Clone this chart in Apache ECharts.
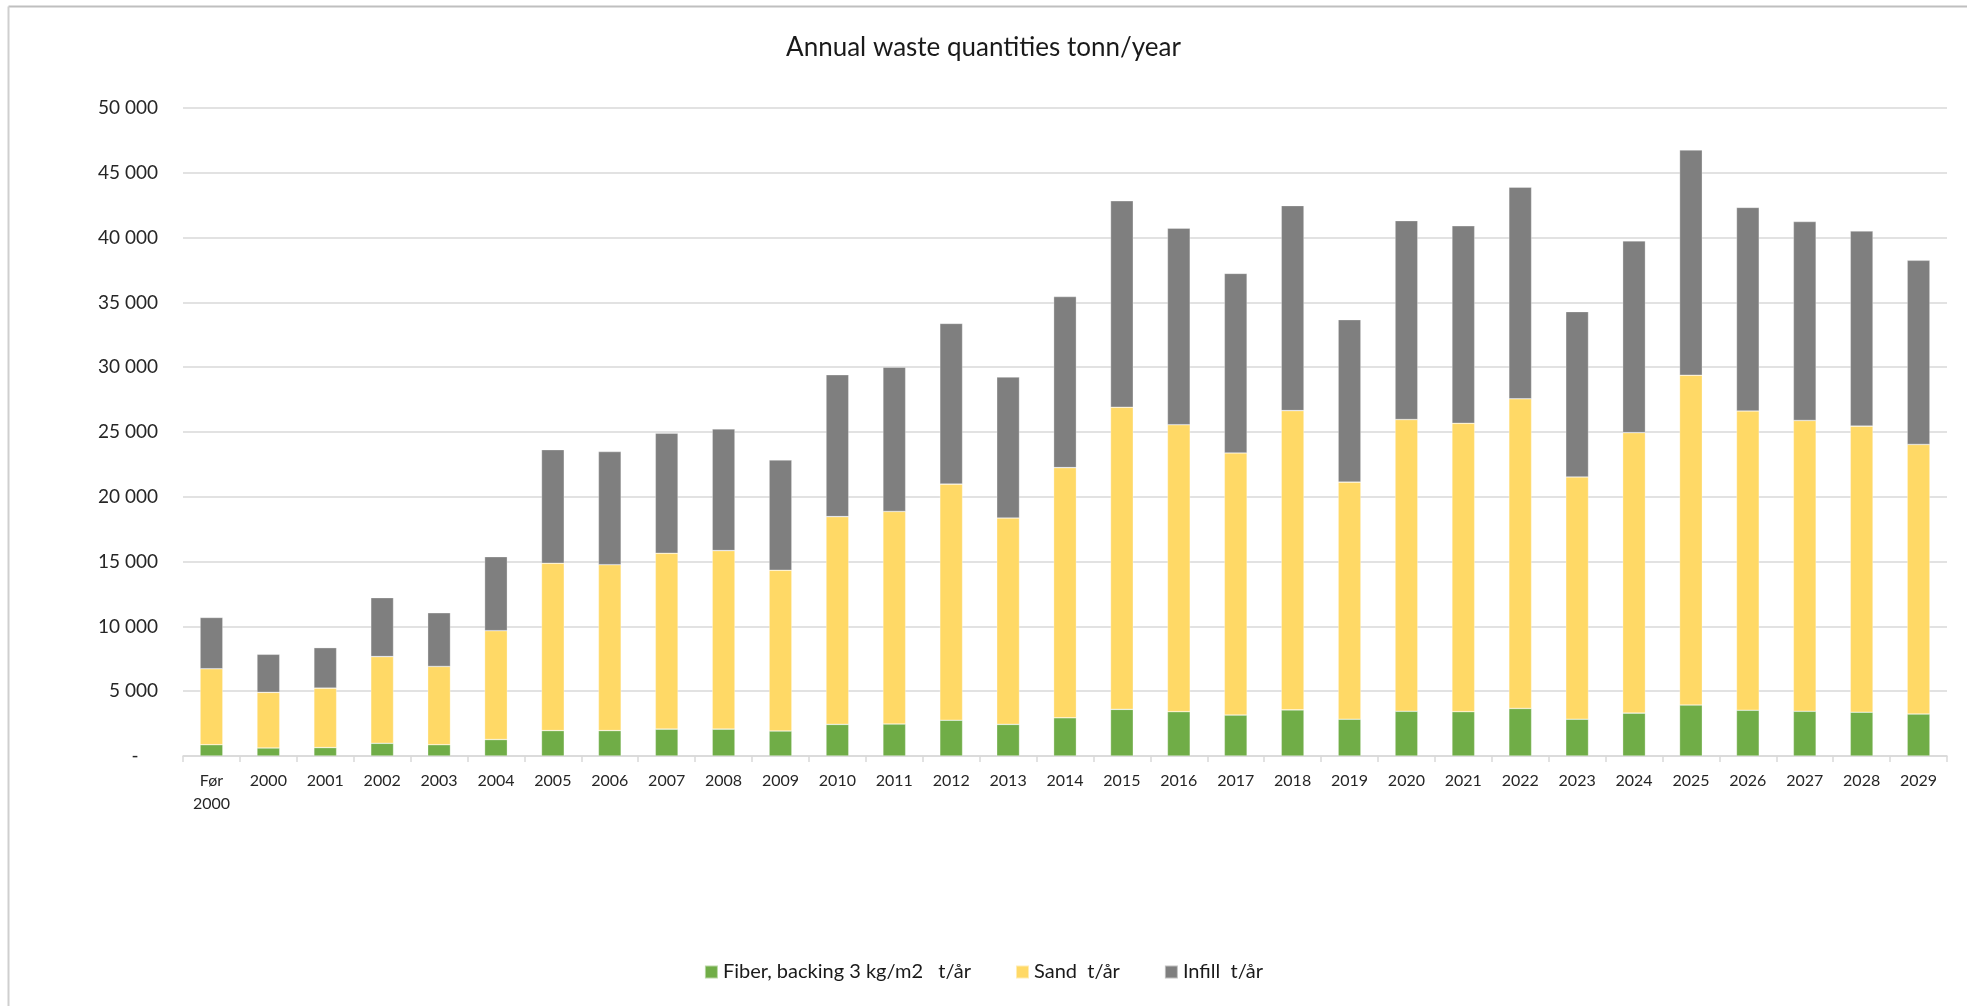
<!DOCTYPE html>
<html>
<head>
<meta charset="utf-8">
<title>Annual waste quantities</title>
<script src="https://cdn.jsdelivr.net/npm/echarts@6/dist/echarts.min.js"></script>
<style>
    html, body { margin: 0; padding: 0; background: #fff; }
    #myChart { width: 1967px; height: 1006px; }
</style>
</head>
<body>
<div id="myChart"></div>
<script>
"use strict";

// 年份 / categories
var years = ['Før\n2000', '2000', '2001', '2002', '2003', '2004', '2005', '2006', '2007', '2008',
    '2009', '2010', '2011', '2012', '2013', '2014', '2015', '2016', '2017', '2018',
    '2019', '2020', '2021', '2022', '2023', '2024', '2025', '2026', '2027', '2028', '2029'];

// t/år
var fiber = [870, 620, 650, 980, 870, 1270, 1960, 1960, 2070, 2070,
    1930, 2440, 2470, 2760, 2440, 2950, 3600, 3420, 3160, 3560,
    2840, 3450, 3420, 3670, 2840, 3310, 3930, 3530, 3450, 3380, 3240];
var sand = [5860, 4290, 4590, 6690, 6040, 8400, 12910, 12800, 13570, 13780,
    12400, 16030, 16400, 18220, 15920, 19300, 23310, 22140, 20220, 23090,
    18290, 22510, 22250, 23890, 18690, 21640, 25450, 23090, 22440, 22070, 20800];
var infill = [3960, 2940, 3120, 4550, 4140, 5710, 8770, 8730, 9270, 9390,
    8510, 10950, 11130, 12400, 10880, 13200, 15930, 15170, 13860, 15820,
    12540, 15350, 15240, 16330, 12760, 14800, 17380, 15710, 15350, 15060, 14210];

var seriesNames = ['Fiber, backing 3 kg/m2   t/år', 'Sand  t/år', 'Infill  t/år'];

var myChart = echarts.init(document.getElementById('myChart'));

function fmt(v) {
    if (v === 0) return '-    ';
    return String(v).replace(/\B(?=(\d{3})+(?!\d))/g, ' ');
}

function barSeries(name, data, color) {
    return {
        name: name,
        type: 'bar',
        stack: 'total',
        barWidth: '40%',
        itemStyle: { color: color, borderColor: 'rgba(255,255,255,0.5)', borderWidth: 0.6 },
        data: data
    };
}

var option = {
    backgroundColor: '#fff',
    textStyle: { fontFamily: 'Lato' },
    title: {
        text: 'Annual waste quantities tonn/year',
        left: 'center',
        top: 30,
        textStyle: { fontFamily: 'Lato', fontSize: 26, fontWeight: 'normal', color: '#1a1a1a' }
    },
    legend: {
        bottom: 19,
        left: 'center',
        itemWidth: 13,
        itemHeight: 13,
        itemGap: 44,
        icon: 'rect',
        textStyle: { fontFamily: 'Lato', fontSize: 20, color: '#1a1a1a' },
        data: seriesNames
    },
    graphic: [
        // Excel chart frame (only top and left edges visible)
        { type: 'line', shape: { x1: 8.5, y1: 6.5, x2: 1967, y2: 6.5 }, style: { stroke: '#bfbfbf', lineWidth: 2 } },
        { type: 'line', shape: { x1: 8.5, y1: 6.5, x2: 8.5, y2: 1006 }, style: { stroke: '#cfcfcf', lineWidth: 2 } }
    ],
    grid: { left: 183, right: 20, top: 108, bottom: 250 },
    xAxis: {
        type: 'category',
        data: years,
        axisLine: { lineStyle: { color: '#d9d9d9', width: 1.5 } },
        axisTick: { show: true, length: 6, lineStyle: { color: '#d9d9d9', width: 1.5 } },
        axisLabel: { fontFamily: 'Lato', fontSize: 16, color: '#262626', margin: 13, lineHeight: 23, interval: 0 }
    },
    yAxis: {
        type: 'value',
        min: 0,
        max: 50000,
        interval: 5000,
        axisLine: { show: false },
        axisTick: { show: false },
        splitLine: { lineStyle: { color: '#d9d9d9', width: 1.5 } },
        axisLabel: { fontFamily: 'Lato', fontSize: 19, color: '#262626', margin: 25, formatter: fmt }
    },
    series: [
        barSeries(seriesNames[0], fiber, '#70ad47'),
        barSeries(seriesNames[1], sand, '#ffd966'),
        barSeries(seriesNames[2], infill, '#7f7f7f')
    ]
};

myChart.setOption(option);
</script>
</body>
</html>
